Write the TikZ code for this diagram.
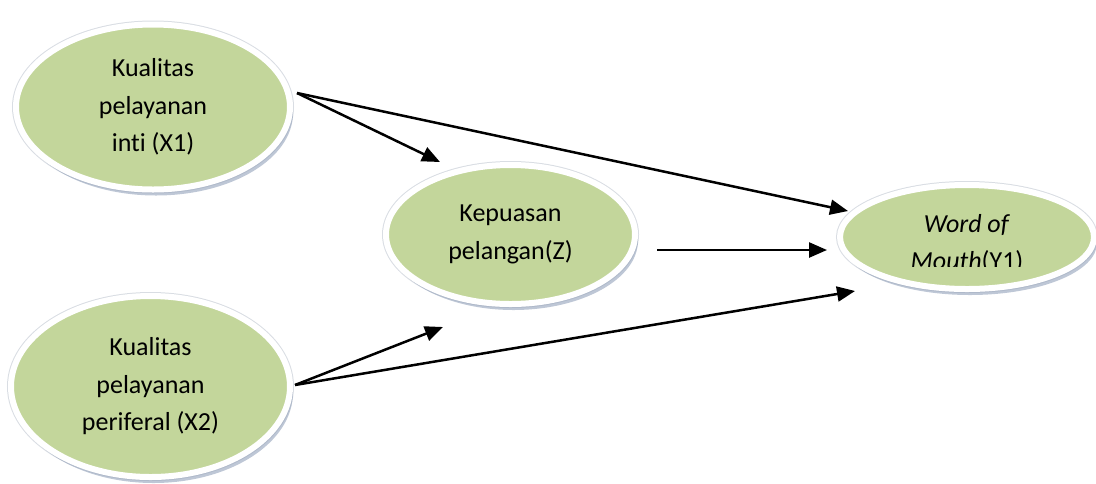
\documentclass[tikz,border=0pt]{standalone}
\usepackage{fontspec}
\setmainfont[Ligatures=NoCommon]{Carlito}
\usetikzlibrary{shapes.geometric,shadows,arrows.meta}
\definecolor{leaf}{HTML}{C3D69B}
\definecolor{rim}{HTML}{FFFFFF}
\definecolor{rimedge}{HTML}{D9DDE3}
\definecolor{shade}{HTML}{93A2BA}
\tikzset{
  var/.style={ellipse, draw=rim, line width=3pt, fill=leaf, inner sep=0pt,
    align=center, font=\fontsize{13}{18.75}\selectfont,
    preaction={draw=rimedge, line width=4pt},
    drop shadow={shadow xshift=1.5pt, shadow yshift=-3pt, fill=shade, opacity=0.6}},
  arr/.style={draw=black, line width=1.25pt, -{Triangle[length=9pt,width=7.5pt]}},
  lbl/.style={align=center, font=\fontsize{13}{18.75}\selectfont}
}
\begin{document}
\begin{tikzpicture}[x=0.5pt,y=-0.5pt]
  \useasboundingbox (0,0) rectangle (1096,483);

  % variables
  \node[var, minimum width=137pt, minimum height=82.5pt] (X1) at (153,107)
    {Kualitas\\pelayanan\\inti (X1)};
  \node[var, minimum width=139.5pt, minimum height=90.5pt] (X2) at (150.5,386.5)
    {Kualitas\\pelayanan\\periferal (X2)};
  \node[var, minimum width=124.5pt, minimum height=69.5pt] (Z) at (510.5,234.5)
    {Kepuasan\\pelangan(Z)};
  \node[var, minimum width=127pt, minimum height=52pt] (Y1) at (967,237) {};
  \begin{scope}
    \clip (840,190) rectangle (1094,266.5);
    \node[lbl] (Y1txt) at (967,244) {\textit{Word of}\\\textit{Mouth}(Y1)};
  \end{scope}

  % arrow ends
  \coordinate (X1out) at (297,93);
  \coordinate (X2out) at (295,385);
  \coordinate (Zout) at (657,250);
  \coordinate (ZinA) at (440,162);
  \coordinate (ZinB) at (443,327);
  \coordinate (YinA) at (848,211);
  \coordinate (YinB) at (827,250);
  \coordinate (YinC) at (855,291);

  \draw[arr] (X1out) -- (ZinA);
  \draw[arr] (X1out) -- (YinA);
  \draw[arr] (X2out) -- (ZinB);
  \draw[arr] (X2out) -- (YinC);
  \draw[arr] (Zout) -- (YinB);
\end{tikzpicture}
\end{document}
